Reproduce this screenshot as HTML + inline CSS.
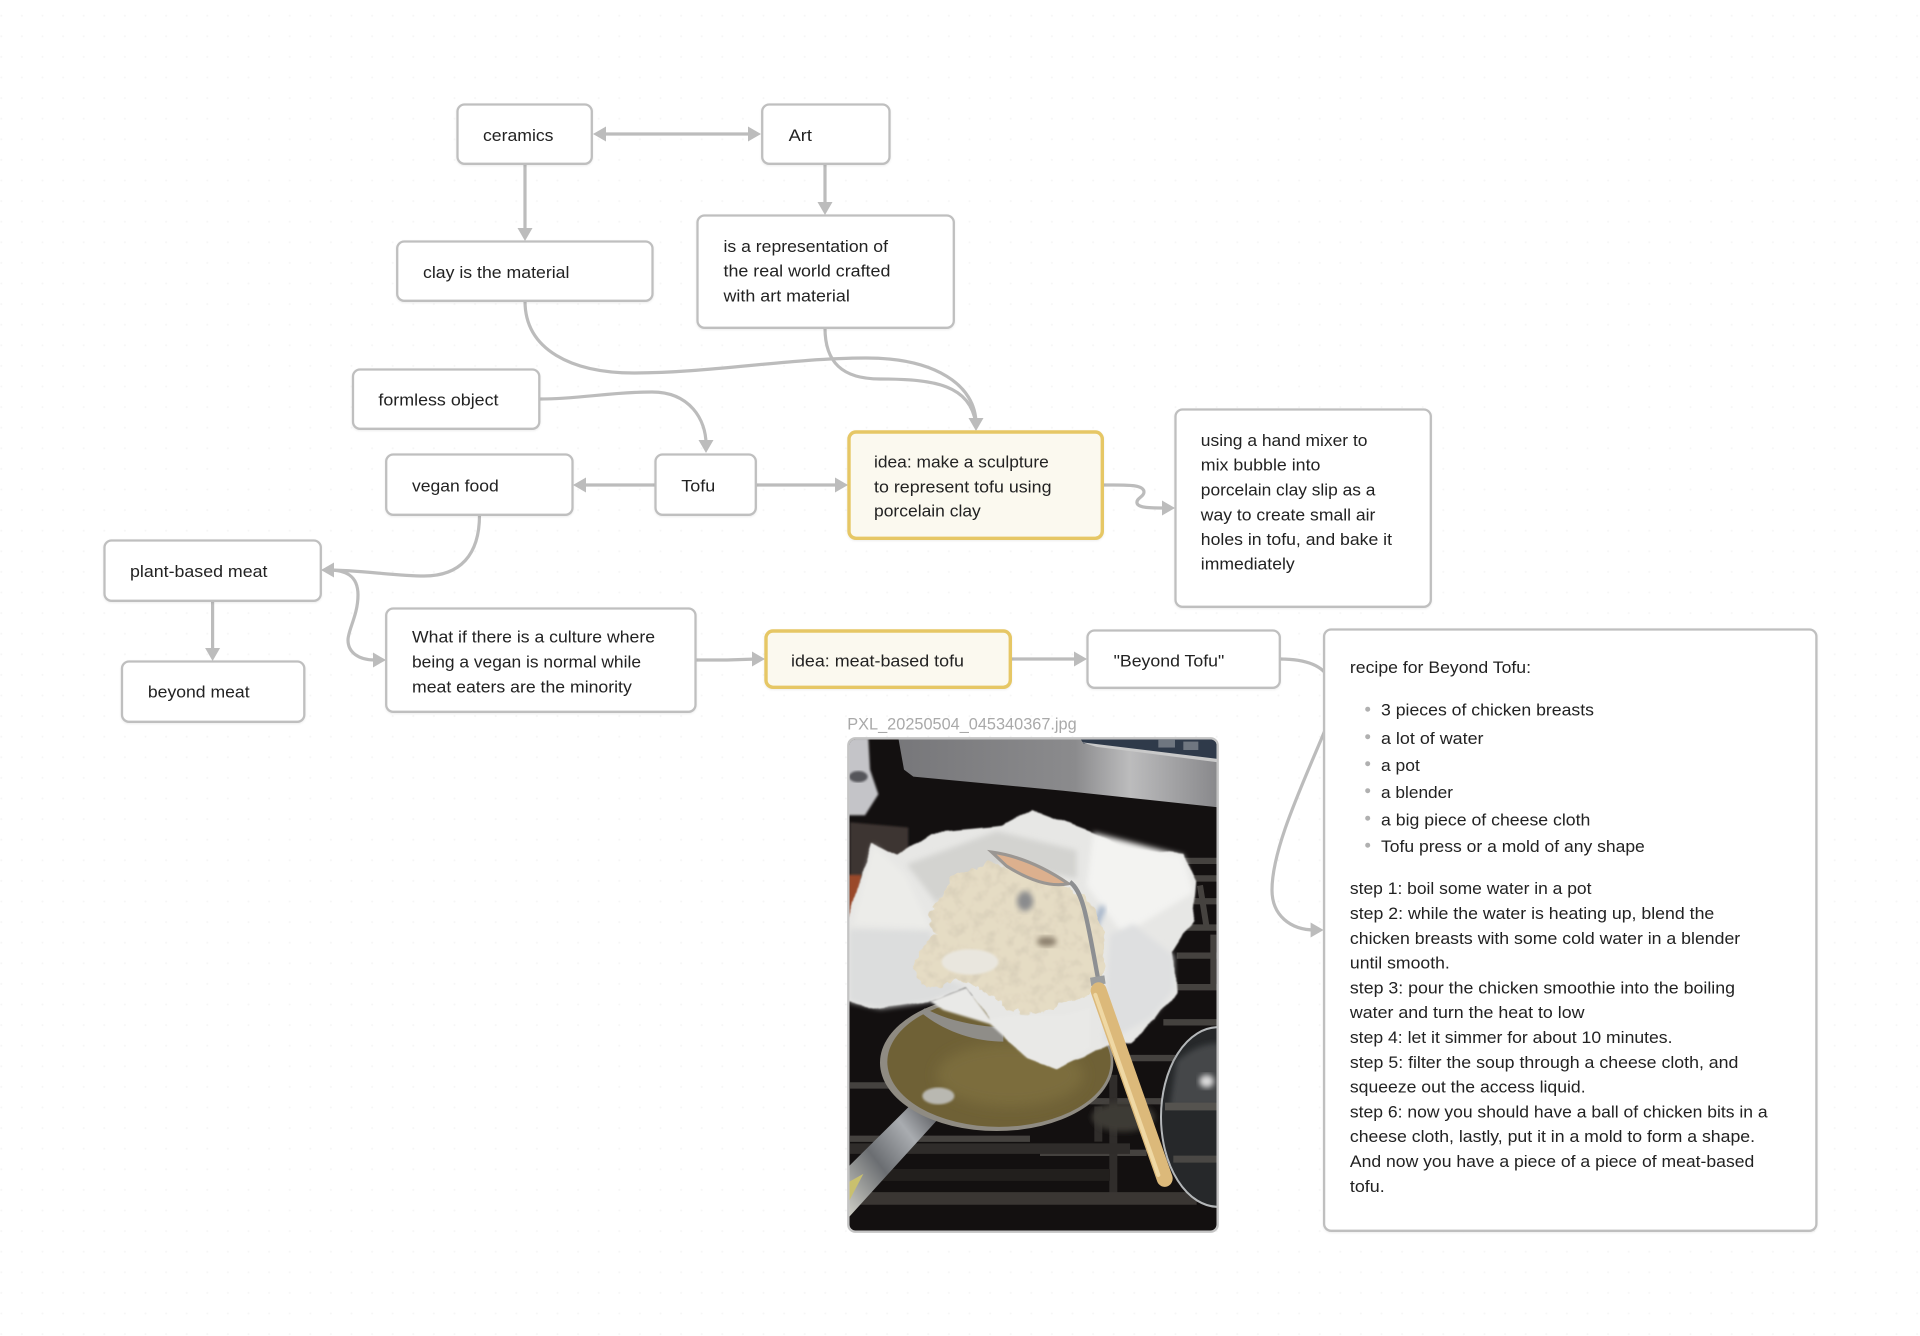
<!DOCTYPE html>
<html lang="en">
<head>
<meta charset="utf-8">
<title>Beyond Tofu</title>
<style>
html,body{margin:0;padding:0;background:#fff;width:1920px;height:1336px;overflow:hidden}
svg{display:block}
text{font-family:"Liberation Sans",Arial,sans-serif;font-size:17px;fill:#222}
.n{fill:#fff;stroke:#bfbfbf;stroke-width:2.3;filter:drop-shadow(0 1px 1px rgba(0,0,0,.07))}
.h{fill:#fbf9ef;stroke:#e6c765;stroke-width:3.4;filter:drop-shadow(0 1px 1px rgba(0,0,0,.07))}
.e{fill:none;stroke:#bcbcbc;stroke-width:3.2}
.a{fill:#bcbcbc}
</style>
</head>
<body>
<svg width="1920" height="1336" viewBox="0 0 1920 1336" xmlns="http://www.w3.org/2000/svg">
<defs>
<pattern id="dots" x="1.3" y="15.7" width="20.6" height="20.6" patternUnits="userSpaceOnUse"><circle cx="0" cy="0" r="1" fill="#f6f6f6"/><circle cx="20.6" cy="0" r="1" fill="#f6f6f6"/><circle cx="0" cy="20.6" r="1" fill="#f6f6f6"/><circle cx="20.6" cy="20.6" r="1" fill="#f6f6f6"/></pattern>
<clipPath id="pc"><rect x="849.5" y="739.5" width="367" height="491" rx="6"/></clipPath>
<filter id="b1" x="-5%" y="-5%" width="110%" height="110%"><feGaussianBlur stdDeviation="3"/></filter>
<filter id="b2" x="-20%" y="-20%" width="140%" height="140%"><feGaussianBlur stdDeviation="8"/></filter>
<filter id="b3" x="-30%" y="-30%" width="160%" height="160%"><feGaussianBlur stdDeviation="18"/></filter>
<filter id="rough" x="-5%" y="-5%" width="110%" height="110%"><feTurbulence type="fractalNoise" baseFrequency=".012" numOctaves="2" seed="3" result="n"/><feDisplacementMap in="SourceGraphic" in2="n" scale="22" xChannelSelector="R" yChannelSelector="G"/><feGaussianBlur stdDeviation="2"/></filter>
<filter id="tex" x="-5%" y="-5%" width="110%" height="110%"><feTurbulence type="fractalNoise" baseFrequency=".028" numOctaves="3" seed="7" result="n"/><feDisplacementMap in="SourceGraphic" in2="n" scale="34" xChannelSelector="R" yChannelSelector="G" result="s"/><feColorMatrix in="n" type="matrix" values="0 0 0 0 .62 0 0 0 0 .56 0 0 0 0 .44 1.6 0 0 0 -.72" result="d"/><feComposite in="d" in2="s" operator="in" result="c"/><feGaussianBlur in="c" stdDeviation="1.5" result="c2"/><feMerge><feMergeNode in="s"/><feMergeNode in="c2"/></feMerge></filter>
<linearGradient id="steel" x1="0" y1="0" x2="1" y2="0"><stop offset="0" stop-color="#77777a"/><stop offset=".55" stop-color="#8b8b8d"/><stop offset=".72" stop-color="#bcbcbd"/><stop offset="1" stop-color="#87878a"/></linearGradient>
<linearGradient id="ph" x1="0" y1="1" x2="1" y2="0"><stop offset="0" stop-color="#cfcfc6"/><stop offset=".4" stop-color="#6b6e72"/><stop offset=".7" stop-color="#a9acb0"/><stop offset="1" stop-color="#4b4c50"/></linearGradient>
</defs>
<rect width="1920" height="1336" fill="#fff"/>
<rect width="1920" height="1336" fill="url(#dots)"/>

<!-- connectors -->
<path class="e" d="M600 134H752"/>
<polygon class="a" points="593,134 606,126.500 606,141.500"/>
<polygon class="a" points="761,134 748,126.500 748,141.500"/>
<path class="e" d="M525 164V232"/>
<polygon class="a" points="525,241 517.500,228 532.500,228"/>
<path class="e" d="M825 164V206"/>
<polygon class="a" points="825,215 817.500,202 832.500,202"/>
<path class="e" d="M525 301C525 350 572 373 634 373C710 373 790 358 866 358C935 358 976 385 976 424"/>
<path class="e" d="M825 328C825 362 842 379 880 379C935 379 970 385 976 424"/>
<polygon class="a" points="976,431 968.500,418 983.500,418"/>
<path class="e" d="M540 399C580 399 610 392 652 392C690 392 706 420 706 444"/>
<polygon class="a" points="706,453 698.500,440 713.500,440"/>
<path class="e" d="M655 485H582"/>
<polygon class="a" points="573,485 586,477.500 586,492.500"/>
<path class="e" d="M756 485H840"/>
<polygon class="a" points="848,485 835,477.500 835,492.500"/>
<path class="e" d="M479.500 515C479.500 555 460 576 424 576C395 576 360 570 328 570"/>
<polygon class="a" points="321,570 334,562.500 334,577.500"/>
<path class="e" d="M328 570C345 570 358 575 358 595C358 615 348 630 348 640C348 652 358 660 375 660H378"/>
<polygon class="a" points="386,660 373,652.500 373,667.500"/>
<path class="e" d="M212.600 601V652"/>
<polygon class="a" points="212.600,661 205.100,648 220.100,648"/>
<path class="e" d="M696 660H727L757 659"/>
<polygon class="a" points="765,659 752,651.500 752,666.500"/>
<path class="e" d="M1104 485C1125 485 1144 484 1144 492C1144 497 1136 498 1137 503C1138 508 1150 508 1167 508"/>
<polygon class="a" points="1175,508 1162,500.500 1162,515.500"/>
<path class="e" d="M1011 659H1079"/>
<polygon class="a" points="1087,659 1074,651.500 1074,666.500"/>
<path class="e" d="M1280 659C1305 659 1323 665 1330 680C1335 700 1330 720 1323 735C1300 790 1272 850 1272 890C1272 915 1290 930 1315 930"/>
<polygon class="a" points="1323.600,930 1310.600,922.500 1310.600,937.500"/>

<!-- nodes -->
<rect class="n" x="457.500" y="104.500" width="134.300" height="59.300" rx="7"/>
<rect class="n" x="762.200" y="104.500" width="127.300" height="59.300" rx="7"/>
<rect class="n" x="397.200" y="241.500" width="255.300" height="59.300" rx="7"/>
<rect class="n" x="697.500" y="215.500" width="256.300" height="112.300" rx="7"/>
<rect class="n" x="353" y="369.500" width="186.300" height="59.300" rx="7"/>
<rect class="n" x="386.200" y="454.500" width="186.300" height="60.300" rx="7"/>
<rect class="n" x="655.500" y="454.500" width="100.300" height="60.300" rx="7"/>
<rect class="n" x="104.500" y="540.500" width="216.300" height="60.300" rx="7"/>
<rect class="n" x="122" y="661.500" width="182.300" height="60.300" rx="7"/>
<rect class="n" x="386.200" y="608.500" width="309.300" height="103.300" rx="7"/>
<rect class="h" x="849" y="432" width="253.300" height="106.300" rx="7"/>
<rect class="n" x="1175.500" y="409.500" width="255.300" height="197.300" rx="7"/>
<rect class="h" x="766" y="631" width="244.300" height="56.300" rx="7"/>
<rect class="n" x="1087.500" y="630.500" width="192.300" height="57.300" rx="7"/>
<rect class="n" x="1324.100" y="629.500" width="492.300" height="601.300" rx="7"/>

<!-- labels -->
<text x="483" y="141" textLength="70.500" lengthAdjust="spacingAndGlyphs">ceramics</text>
<text x="788.600" y="141" textLength="23.400" lengthAdjust="spacingAndGlyphs">Art</text>
<text x="423" y="278" textLength="146.400" lengthAdjust="spacingAndGlyphs">clay is the material</text>
<text x="723.500" y="252" textLength="164.500" lengthAdjust="spacingAndGlyphs">is a representation of</text>
<text x="723.500" y="276.700" textLength="166.900" lengthAdjust="spacingAndGlyphs">the real world crafted</text>
<text x="723.500" y="301.700" textLength="126.300" lengthAdjust="spacingAndGlyphs">with art material</text>
<text x="378.400" y="405.700" textLength="120.100" lengthAdjust="spacingAndGlyphs">formless object</text>
<text x="412" y="491.700" textLength="86.800" lengthAdjust="spacingAndGlyphs">vegan food</text>
<text x="681.300" y="491.700" textLength="34" lengthAdjust="spacingAndGlyphs">Tofu</text>
<text x="130" y="577" textLength="137.500" lengthAdjust="spacingAndGlyphs">plant-based meat</text>
<text x="147.900" y="697.700" textLength="101.700" lengthAdjust="spacingAndGlyphs">beyond meat</text>
<text x="412" y="642.700" textLength="243" lengthAdjust="spacingAndGlyphs">What if there is a culture where</text>
<text x="412" y="667.700" textLength="229" lengthAdjust="spacingAndGlyphs">being a vegan is normal while</text>
<text x="412" y="692.700" textLength="219.800" lengthAdjust="spacingAndGlyphs">meat eaters are the minority</text>
<text x="874" y="467.700" textLength="174.800" lengthAdjust="spacingAndGlyphs">idea: make a sculpture</text>
<text x="874" y="492.700" textLength="177.500" lengthAdjust="spacingAndGlyphs">to represent tofu using</text>
<text x="874" y="516.700" textLength="106.800" lengthAdjust="spacingAndGlyphs">porcelain clay</text>
<text x="1200.800" y="446" textLength="166.700" lengthAdjust="spacingAndGlyphs">using a hand mixer to</text>
<text x="1200.800" y="470.700" textLength="119.600" lengthAdjust="spacingAndGlyphs">mix bubble into</text>
<text x="1200.800" y="495.700" textLength="174.600" lengthAdjust="spacingAndGlyphs">porcelain clay slip as a</text>
<text x="1200.800" y="520.300" textLength="174.600" lengthAdjust="spacingAndGlyphs">way to create small air</text>
<text x="1200.800" y="545" textLength="191.200" lengthAdjust="spacingAndGlyphs">holes in tofu, and bake it</text>
<text x="1200.800" y="569.700" textLength="93.900" lengthAdjust="spacingAndGlyphs">immediately</text>
<text x="791" y="666.700" textLength="173" lengthAdjust="spacingAndGlyphs">idea: meat-based tofu</text>
<text x="1113.600" y="666.700" textLength="110.700" lengthAdjust="spacingAndGlyphs">"Beyond Tofu"</text>
<text x="847.300" y="729.300" textLength="229.400" lengthAdjust="spacingAndGlyphs" style="fill:#a9a9a9">PXL_20250504_045340367.jpg</text>

<!-- recipe -->
<g transform="translate(0,-.8)">
<text x="1349.900" y="673.900" textLength="181.100" lengthAdjust="spacingAndGlyphs">recipe for Beyond Tofu:</text>
<g fill="#b0b0b0"><circle cx="1367.700" cy="710" r="2.500"/><circle cx="1367.700" cy="737.500" r="2.500"/><circle cx="1367.700" cy="764.500" r="2.500"/><circle cx="1367.700" cy="791.500" r="2.500"/><circle cx="1367.700" cy="819" r="2.500"/><circle cx="1367.700" cy="846" r="2.500"/></g>
<text x="1381" y="716.300" textLength="213" lengthAdjust="spacingAndGlyphs">3 pieces of chicken breasts</text>
<text x="1381" y="744.600" textLength="102.500" lengthAdjust="spacingAndGlyphs">a lot of water</text>
<text x="1381" y="771.600" textLength="38.800" lengthAdjust="spacingAndGlyphs">a pot</text>
<text x="1381" y="798.600" textLength="72" lengthAdjust="spacingAndGlyphs">a blender</text>
<text x="1381" y="826.400" textLength="209.400" lengthAdjust="spacingAndGlyphs">a big piece of cheese cloth</text>
<text x="1381" y="853" textLength="263.800" lengthAdjust="spacingAndGlyphs">Tofu press or a mold of any shape</text>
<text x="1349.900" y="895" textLength="241.600" lengthAdjust="spacingAndGlyphs">step 1: boil some water in a pot</text>
<text x="1349.900" y="919.800" textLength="364.400" lengthAdjust="spacingAndGlyphs">step 2: while the water is heating up, blend the</text>
<text x="1349.900" y="944.600" textLength="390.300" lengthAdjust="spacingAndGlyphs">chicken breasts with some cold water in a blender</text>
<text x="1349.900" y="969.400" textLength="99.900" lengthAdjust="spacingAndGlyphs">until smooth.</text>
<text x="1349.900" y="994.200" textLength="385.100" lengthAdjust="spacingAndGlyphs">step 3: pour the chicken smoothie into the boiling</text>
<text x="1349.900" y="1019" textLength="234.600" lengthAdjust="spacingAndGlyphs">water and turn the heat to low</text>
<text x="1349.900" y="1043.800" textLength="322.600" lengthAdjust="spacingAndGlyphs">step 4: let it simmer for about 10 minutes.</text>
<text x="1349.900" y="1068.600" textLength="388.500" lengthAdjust="spacingAndGlyphs">step 5: filter the soup through a cheese cloth, and</text>
<text x="1349.900" y="1093.400" textLength="235.700" lengthAdjust="spacingAndGlyphs">squeeze out the access liquid.</text>
<text x="1349.900" y="1118.200" textLength="417.700" lengthAdjust="spacingAndGlyphs">step 6: now you should have a ball of chicken bits in a</text>
<text x="1349.900" y="1143" textLength="405.100" lengthAdjust="spacingAndGlyphs">cheese cloth, lastly, put it in a mold to form a shape.</text>
<text x="1349.900" y="1167.800" textLength="404.400" lengthAdjust="spacingAndGlyphs">And now you have a piece of a piece of meat-based</text>
<text x="1349.900" y="1192.600" textLength="34.800" lengthAdjust="spacingAndGlyphs">tofu.</text>
</g>

<!-- photo -->
<rect x="848.300" y="738.300" width="369.400" height="493.400" rx="7" fill="#fff" stroke="#c4c4c4" stroke-width="2.300"/>
<g clip-path="url(#pc)">
<g transform="translate(830,710) scale(.33333,.35088)">
<rect x="50" y="80" width="1120" height="1410" fill="#131010"/>
<polygon points="50,80 115,80 120,170 145,240 105,300 50,300" fill="#c4c4c8" filter="url(#b1)"/>
<ellipse cx="85" cy="190" rx="28" ry="16" fill="#55555a" filter="url(#b1)"/>
<polygon points="60,320 235,335 235,450 60,480" fill="#3d3632" filter="url(#b1)"/>
<polygon points="205,80 1170,80 1170,278 700,230 250,190 222,170" fill="url(#steel)"/>
<polygon points="750,80 1170,80 1170,145 760,95" fill="#2f3a4a"/>
<polygon points="755,92 1170,140 1170,150 800,105" fill="#c9c9c9"/>
<rect x="985" y="85" width="50" height="22" fill="#6f7680"/><rect x="1060" y="90" width="45" height="24" fill="#6f7680"/>
<polygon points="55,470 95,470 80,600 55,610" fill="#9a4a2c" filter="url(#b1)"/>
<!-- grates -->
<g stroke="#45423f" stroke-width="18" fill="none">
<path d="M1040 430H1170M1060 480H1170M1040 545H1170M1040 620H1170M1040 700H1170M1040 790H1170M1000 890H1170M900 992H1040M770 1115H1000M60 1070H240M630 1262H950M60 1222H600"/>
<path d="M1110 500L1130 620M1150 640L1150 790"/>
<path d="M850 1040V1400M805 1130V1230" stroke-width="24" stroke="#302d2b"/>
</g>
<path d="M120 1325H840" stroke="#221f1d" stroke-width="34"/>
<path d="M60 1392H1100" stroke="#3a3633" stroke-width="36"/>
<path d="M60 1250H900" stroke="#2f2c2a" stroke-width="30"/>
<ellipse cx="880" cy="1160" rx="95" ry="42" fill="#3d3a36" filter="url(#b2)"/>
<!-- lid -->
<ellipse cx="1165" cy="1160" rx="172" ry="256" fill="#26282a" stroke="#b4b7b9" stroke-width="6"/>
<path d="M1040 1000C1090 960 1130 950 1170 950V1130H1020Z" fill="#44474a" filter="url(#b2)"/>
<ellipse cx="1130" cy="1058" rx="22" ry="18" fill="#dcdcdc" filter="url(#b2)"/>
<path d="M1005 1130H1170" stroke="#55534f" stroke-width="22"/>
<path d="M1030 1280H1170" stroke="#4a4845" stroke-width="20"/>
<!-- pot handle -->
<polygon points="57,1300 250,1118 325,1165 57,1445" fill="url(#ph)"/>
<polygon points="57,1345 100,1322 57,1400" fill="#c9c06e"/>
<!-- pot -->
<ellipse cx="500" cy="1005" rx="350" ry="195" fill="#8f8b82"/>
<ellipse cx="507" cy="1003" rx="335" ry="185" fill="#6f6136"/>
<ellipse cx="540" cy="1040" rx="220" ry="90" fill="#7c6d3e" filter="url(#b3)"/>
<ellipse cx="325" cy="1100" rx="48" ry="24" fill="#b9b8b1" filter="url(#b1)"/>
<path d="M270 860C340 915 430 945 520 945L520 905C420 900 340 880 285 850Z" fill="#8f8d88"/>
<!-- cloth -->
<g filter="url(#rough)">
<path d="M50 620L125 375L200 412L300 350L520 330L610 284L780 345L880 392L1060 410L1100 490L1090 600L1030 690L1040 800L980 880L900 945L800 970L680 1022L590 990L480 880L410 790L300 830L150 850L50 830Z" fill="#e7e7e5"/>
</g>
<polygon points="58,625 300,630 330,760 410,790 300,830 150,850 58,830" fill="#dcdddd" filter="url(#b2)"/>
<polygon points="130,385 225,470 300,620 70,610" fill="#ecece9" filter="url(#b2)"/>
<polygon points="790,350 1060,415 1090,520 880,640 770,500" fill="#f3f3f1" filter="url(#b2)"/>
<polygon points="840,640 910,610 1030,700 1030,800 960,880 820,950" fill="#dedfe0" filter="url(#b2)"/>
<polygon points="230,440 500,345 740,400 740,480 500,440 320,550" fill="#d3d3d0" filter="url(#b2)"/>
<path d="M820 560C800 600 790 640 760 670" stroke="#9fb0c8" stroke-width="18" fill="none" filter="url(#b2)"/>
<!-- tofu -->
<path d="M300 590L370 470L480 435L520 445L640 470L720 510L800 560L825 650L820 760L760 820L620 865L530 855L490 815L380 760L340 790L280 785L248 730L290 665L320 640Z" fill="#e5dcc4" filter="url(#tex)"/>
<ellipse cx="585" cy="545" rx="24" ry="28" fill="#8a8b8d" filter="url(#b2)"/>
<ellipse cx="650" cy="660" rx="30" ry="14" fill="#8a7e6c" filter="url(#b2)"/>
<ellipse cx="420" cy="718" rx="85" ry="36" fill="#e9e6de" filter="url(#b1)"/>
<path d="M480 880L410 790L300 830L340 855L480 895L590 990L680 1022L780 960L780 850L700 870L560 870Z" fill="#e9e9e7" filter="url(#b1)"/>
<!-- spoon + handle -->
<path d="M485 405Q600 420 715 495Q640 510 530 445Z" fill="#dcb08e" stroke="#9a9692" stroke-width="9"/>
<path d="M720 490C760 520 770 590 805 770" stroke="#8d8f92" stroke-width="13" fill="none"/>
<path d="M782 775L825 768" stroke="#9c9e9f" stroke-width="24"/>
<path d="M806 800L1004 1335" stroke="#dcb97a" stroke-width="48" stroke-linecap="round"/>
<path d="M796 812L985 1325" stroke="#efd8a4" stroke-width="12" stroke-linecap="round"/>
</g>
</g>
</svg>
</body>
</html>
